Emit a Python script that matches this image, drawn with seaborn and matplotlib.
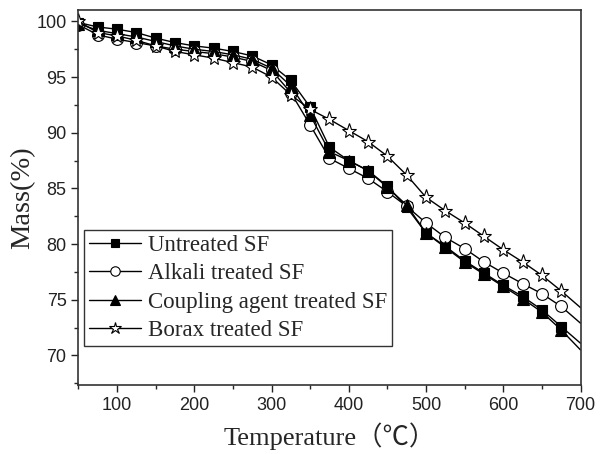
import numpy as np
import pandas as pd
import matplotlib
matplotlib.use('Agg')
import matplotlib.pyplot as plt
from matplotlib.ticker import MultipleLocator
import seaborn as sns

sns.set_style('white')
plt.rcParams['font.family'] = ['Liberation Sans', 'DejaVu Sans']

# TGA data (mass % vs temperature)
temps = list(range(50, 701, 25))
untreated = [99.9, 99.5, 99.3, 99.0, 98.5, 98.1, 97.8, 97.6, 97.3, 96.9, 96.1, 94.7, 92.3,
             88.7, 87.5, 86.6, 85.2, 83.3, 81.0, 79.8, 78.5, 77.4, 76.3, 75.3, 74.1, 72.6, 71.1]
alkali = [99.7, 98.8, 98.4, 98.1, 97.8, 97.5, 97.3, 97.1, 96.8, 96.4, 95.6, 93.6, 90.7,
          87.7, 86.8, 85.9, 84.7, 83.4, 81.9, 80.6, 79.6, 78.4, 77.4, 76.45, 75.55, 74.4, 72.9]
coupling = [99.8, 99.2, 98.9, 98.6, 98.2, 97.8, 97.5, 97.3, 97.0, 96.6, 95.8, 94.2, 91.6,
            88.3, 87.5, 86.6, 85.1, 83.5, 81.0, 79.7, 78.4, 77.3, 76.2, 75.1, 73.9, 72.3, 70.5]
borax = [100.0, 99.0, 98.7, 98.3, 97.8, 97.3, 97.0, 96.7, 96.3, 95.9, 95.0, 93.4, 92.1,
         91.2, 90.2, 89.2, 87.9, 86.2, 84.2, 83.0, 81.9, 80.7, 79.5, 78.4, 77.2, 75.8, 74.3]

labels = ['Untreated SF', 'Alkali treated SF', 'Coupling agent treated SF', 'Borax treated SF']
series = [untreated, alkali, coupling, borax]
markers = ['s', 'o', '^', '*']
faces = ['black', 'white', 'black', 'white']
sizes = [7.5, 8.5, 8.5, 11]

fig = plt.figure(figsize=(6, 4.54), dpi=100)
ax = fig.add_axes([0.1307, 0.152, 0.8368, 0.8266])

mark_idx = list(range(0, len(temps) - 1))
for lab, vals, m, fc, ms in zip(labels, series, markers, faces, sizes):
    sns.lineplot(x=temps, y=vals, ax=ax, color='black', linewidth=1.0,
                 marker=m, markersize=ms, markerfacecolor=fc, markeredgecolor='black',
                 markeredgewidth=0.8, markevery=mark_idx, label=lab, sort=False)

ax.set_xlim(50, 700)
ax.set_ylim(67.35, 101.05)
ax.xaxis.set_minor_locator(MultipleLocator(50))
ax.yaxis.set_minor_locator(MultipleLocator(2.5))
ax.set_xticks([100, 200, 300, 400, 500, 600, 700])
ax.set_yticks([70, 75, 80, 85, 90, 95, 100])

ax.tick_params(which='major', direction='out', length=5, width=1, labelsize=13,
               bottom=True, left=True, top=False, right=False, colors='#222222')
ax.tick_params(which='minor', direction='out', length=3, width=1,
               bottom=True, left=True, top=False, right=False)
for s in ax.spines.values():
    s.set_color('#333333')
    s.set_linewidth(1.2)

serif = ['Liberation Serif', 'Noto Sans CJK SC', 'DejaVu Serif']
ax.set_xlabel('Temperature（℃）', fontsize=19, family=serif, labelpad=6)
ax.set_ylabel('Mass(%)', fontsize=20.5, family=serif, labelpad=1)

leg = ax.legend(loc='upper left', bbox_to_anchor=(0.011, 0.413), borderaxespad=0,
                prop={'family': serif, 'size': 16.5}, frameon=True, fancybox=False,
                edgecolor='black', handlelength=2.3, handletextpad=0.3,
                labelspacing=0.33, borderpad=0.2, markerscale=0.8)
leg.get_frame().set_linewidth(1.0)

fig.savefig('out.png', dpi=100)
